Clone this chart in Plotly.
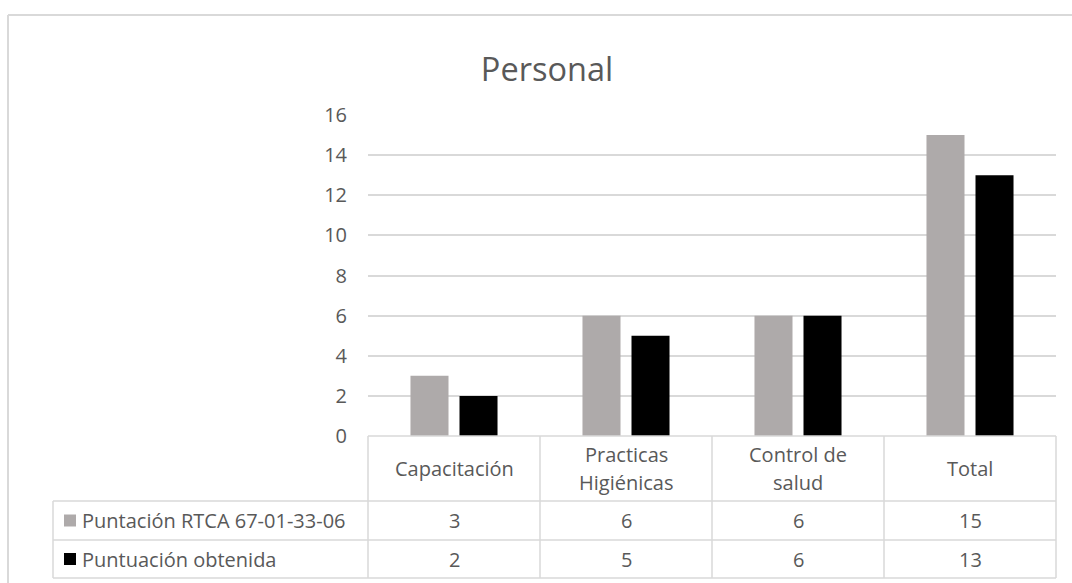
import plotly.graph_objects as go

# Chart data
categories = ["Capacitación", "Practicas\nHigiénicas", "Control de\nsalud", "Total"]
series_names = ["Puntación RTCA 67-01-33-06", "Puntuación obtenida"]
rtca_scores = [3, 6, 6, 15]
obtained_scores = [2, 5, 6, 13]
y_ticks = [0, 2, 4, 6, 8, 10, 12, 14, 16]

W, H = 1072, 583
FONT = "Open Sans"
TEXT = "#595959"
LINE = "#D9D9D9"
COLORS = ["#AEAAAA", "#000000"]
TXT_SIZE = 20

# pixel geometry of plot area and table
PX_L, PX_R = 368, 1056
PY_TOP, PY_ZERO = 115, 436
ROW_HDR, ROW1, ROW2 = 501, 540, 578
LEGEND_L = 53


def px(x):
    return x / W


def py(y):
    return 1 - y / H


fig = go.Figure()
series = [rtca_scores, obtained_scores]
for name, vals, col in zip(series_names, series, COLORS):
    fig.add_trace(go.Bar(
        x=list(range(len(categories))), y=vals, name=name,
        marker=dict(color=col, line=dict(width=0)),
        hoverinfo="y+name",
    ))

shapes = []
annotations = []


def hline(y, x0, x1):
    shapes.append(dict(type="line", xref="paper", yref="paper",
                       x0=px(x0), x1=px(x1), y0=py(y), y1=py(y),
                       line=dict(color=LINE, width=1.5)))


def vline(x, y0, y1):
    shapes.append(dict(type="line", xref="paper", yref="paper",
                       x0=px(x), x1=px(x), y0=py(y0), y1=py(y1),
                       line=dict(color=LINE, width=1.5)))


# outer chart border (left and top edges visible)
shapes.append(dict(type="line", xref="paper", yref="paper",
                   x0=px(8), x1=px(8), y0=py(15), y1=0,
                   line=dict(color=LINE, width=2)))
shapes.append(dict(type="line", xref="paper", yref="paper",
                   x0=px(8), x1=1, y0=py(15), y1=py(15),
                   line=dict(color=LINE, width=2)))

# data table grid
col_w = (PX_R - PX_L) / len(categories)
hline(PY_ZERO, PX_L, PX_R)
for y in (ROW_HDR, ROW1, ROW2):
    hline(y, LEGEND_L, PX_R)
vline(LEGEND_L, ROW_HDR, ROW2)
for i in range(len(categories) + 1):
    vline(PX_L + i * col_w, PY_ZERO, ROW2)


def text(x, y, s, size=TXT_SIZE, xanchor="center"):
    annotations.append(dict(xref="paper", yref="paper", x=px(x), y=py(y),
                            text=s, showarrow=False, xanchor=xanchor,
                            yanchor="middle",
                            font=dict(family=FONT, size=size, color=TEXT)))


# header cells
hdr_mid = (PY_ZERO + ROW_HDR) / 2
for i, cat in enumerate(categories):
    cx = PX_L + (i + 0.5) * col_w
    lines = cat.split("\n")
    n = len(lines)
    for j, ln in enumerate(lines):
        text(cx, hdr_mid + (j - (n - 1) / 2) * 28, ln)

# value rows with legend keys
row_mids = [(ROW_HDR + ROW1) / 2, (ROW1 + ROW2) / 2]
for r, (name, vals, col) in enumerate(zip(series_names, series, COLORS)):
    ym = row_mids[r]
    shapes.append(dict(type="rect", xref="paper", yref="paper",
                       x0=px(64), x1=px(76), y0=py(ym - 6), y1=py(ym + 6),
                       fillcolor=col, line=dict(width=0)))
    text(80, ym, name, xanchor="left")
    for i, v in enumerate(vals):
        text(PX_L + (i + 0.5) * col_w, ym, str(v))

fig.update_layout(
    width=W, height=H,
    margin=dict(l=0, r=0, t=0, b=0, pad=0, autoexpand=False),
    paper_bgcolor="white", plot_bgcolor="white",
    showlegend=False,
    barmode="group", bargap=0.43, bargroupgap=0.2245,
    title=dict(text="Personal", x=px(547), y=py(70), xanchor="center",
               yanchor="middle", automargin=False,
               font=dict(family=FONT, size=32.5, color=TEXT)),
    xaxis=dict(domain=[px(PX_L), px(PX_R)], range=[-0.5, len(categories) - 0.5],
               showticklabels=False, showgrid=False, zeroline=False,
               showline=False, ticks="", automargin=False),
    yaxis=dict(domain=[py(PY_ZERO), py(PY_TOP)], range=[0, 16],
               tickvals=y_ticks, ticktext=[str(t) for t in y_ticks],
               showgrid=True, gridcolor=LINE, gridwidth=1.5,
               zeroline=False, showline=False, ticks="",
               ticklabelstandoff=20, automargin=False,
               tickfont=dict(family=FONT, size=TXT_SIZE, color=TEXT)),
    shapes=shapes, annotations=annotations,
    font=dict(family=FONT, color=TEXT),
)

fig.write_html("out.html")
